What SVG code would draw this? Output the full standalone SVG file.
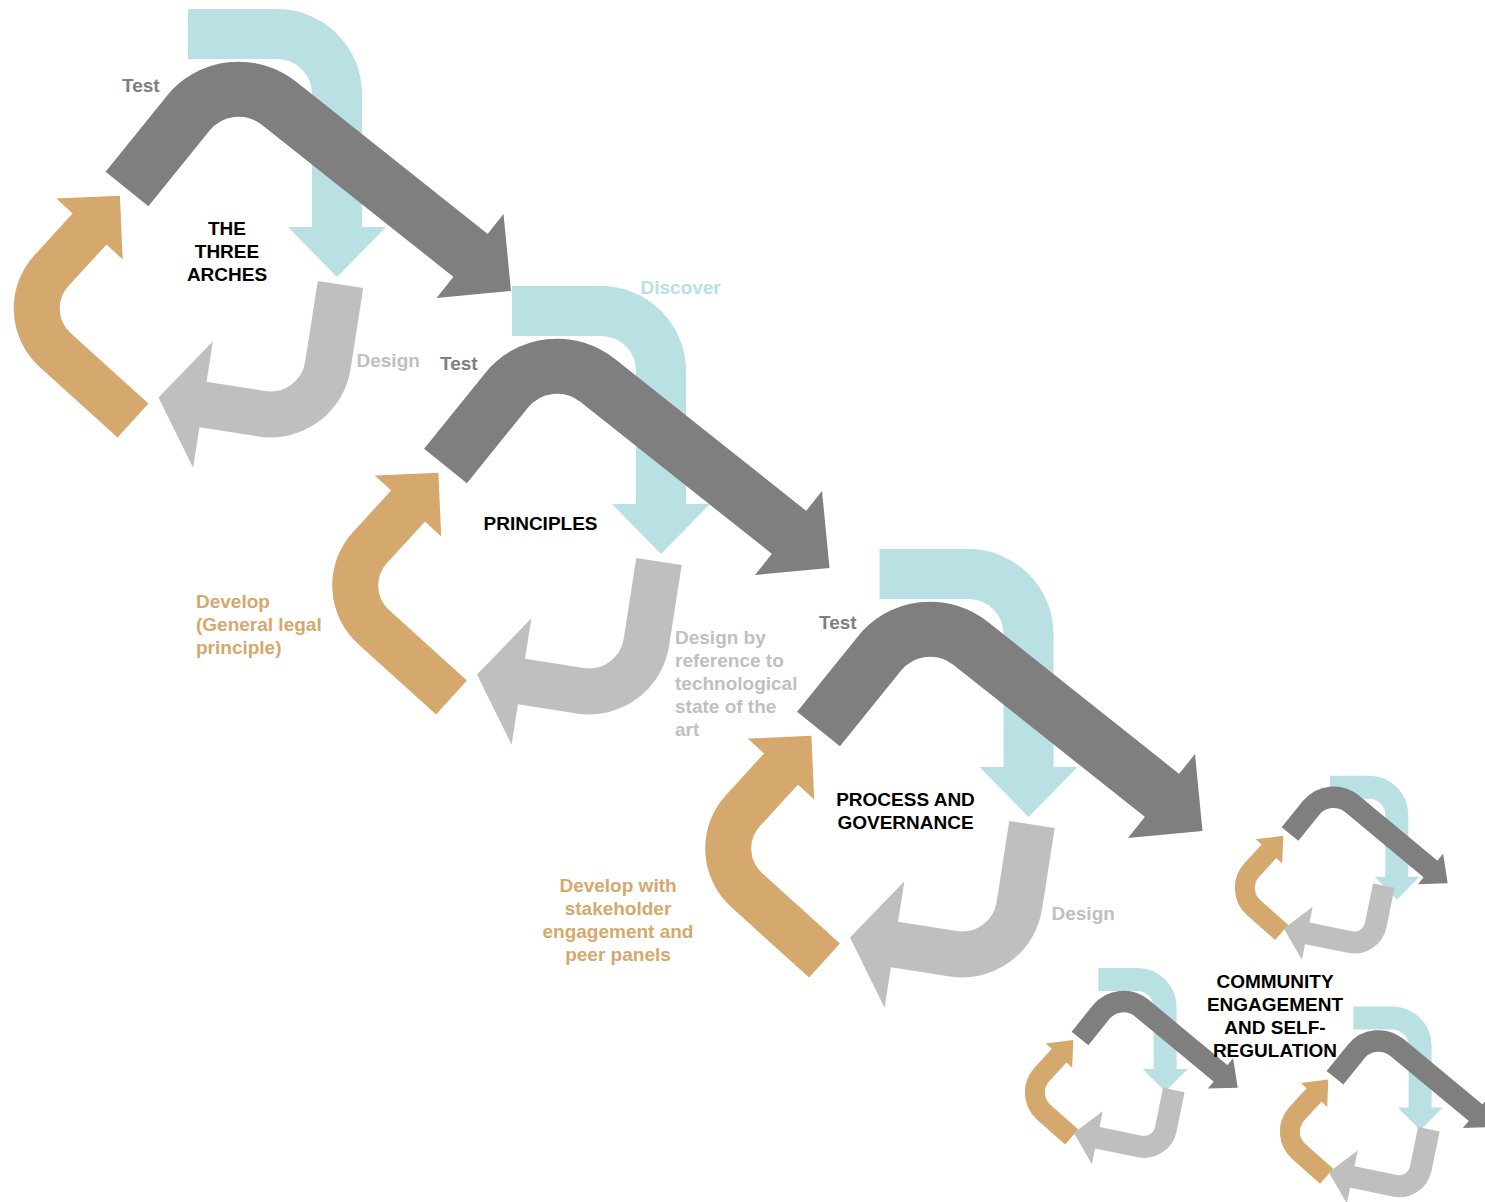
<svg xmlns="http://www.w3.org/2000/svg" width="1485" height="1202" viewBox="0 0 1485 1202">
<style>
.band{fill:none;stroke-linecap:butt;stroke-linejoin:miter}
.blue{stroke:#B9E0E3}.blue-f{fill:#B9E0E3}
.gray{stroke:#7F7F7F}.gray-f{fill:#7F7F7F}
.lgray{stroke:#BFBFBF}.lgray-f{fill:#BFBFBF}
.tan{stroke:#D5A86E}.tan-f{fill:#D5A86E}
.lbl{font-family:"Liberation Sans",Arial,Helvetica,sans-serif;font-weight:bold;font-size:19px}
.title{fill:#000;text-anchor:middle}
.c-test{fill:#7F7F7F}.c-design{fill:#BFBFBF}.c-disc{fill:#B9E0E3}.c-dev{fill:#D5A86E}
</style>
<defs>
<g id="big-blue">
<path class="band blue" stroke-width="50" d="M188,34 H277 A60,60 0 0 1 337,94 V229"/>
<polygon class="blue-f" points="288,227 386,227 337,277"/>
</g>
<g id="big-gray">
<path class="band gray" stroke-width="55" d="M127,189 L187.6,113.9 A65,65 0 0 1 279.3,103.5 L471.6,256.2"/>
<polygon class="gray-f" points="503.5,214 511,291 436.5,298"/>
</g>
<g id="big-lgray">
<path class="band lgray" stroke-width="46" d="M340.5,284.5 L327.9,365.3 A58,58 0 0 1 261.7,413.7 L201.5,404.3"/>
<polygon class="lgray-f" points="212.9,341.3 158.5,397.6 193.1,467.7"/>
</g>
<g id="big-tan">
<path class="band tan" stroke-width="46" d="M133,420.5 L54.8,349.7 A56,56 0 0 1 51.2,270.9 L90.5,227.9"/>
<polygon class="tan-f" points="56.3,198.6 119.9,195.8 122.7,259.4"/>
</g>
<g id="sm-blue">
<path class="band blue" stroke-width="23" d="M1330,787.2 H1369 A27.8,27.8 0 0 1 1396.8,815 V878"/>
<polygon class="blue-f" points="1374.5,876.7 1419.5,876.7 1397,899.5"/>
</g>
<g id="sm-gray">
<path class="band gray" stroke-width="21.5" d="M1290,834 L1311.2,807.7 A29,29 0 0 1 1351.8,803.7 L1431.3,869.6"/>
<polygon class="gray-f" points="1443.1,853.8 1447.7,883.3 1417.9,884.2"/>
</g>
<g id="sm-lgray">
<path class="band lgray" stroke-width="22" d="M1383.8,885.6 L1375.8,924.8 A22,22 0 0 1 1349.8,942 L1306.3,933.1"/>
<polygon class="lgray-f" points="1312.7,906.8 1283.8,928.5 1301.9,959.8"/>
</g>
<g id="sm-tan">
<path class="band tan" stroke-width="20" d="M1281.7,932.5 L1253.5,907.5 A26.5,26.5 0 0 1 1251.5,870.4 L1269.7,850.6"/>
<polygon class="tan-f" points="1282.2,863.4 1283.3,835.7 1255.8,839.2"/>
</g>
</defs>

<g id="node-three-arches">
<use href="#big-tan"/>
<use href="#big-blue"/>
<use href="#big-gray"/>
<use href="#big-lgray"/>
<text class="lbl title" x="227" y="234.8">THE</text>
<text class="lbl title" x="227" y="257.8">THREE</text>
<text class="lbl title" x="227" y="280.8">ARCHES</text>
<text class="lbl c-test" x="122" y="91.8">Test</text>
<text class="lbl c-design" x="356.5" y="366.8">Design</text>
</g>

<g id="node-principles">
<use href="#big-tan" transform="translate(318.5,277)"/>
<use href="#big-blue" transform="translate(324,277)"/>
<use href="#big-gray" transform="translate(318.5,277)"/>
<use href="#big-lgray" transform="translate(318.5,277)"/>
<text class="lbl title" x="540.5" y="529.8">PRINCIPLES</text>
<text class="lbl c-test" x="440" y="369.8">Test</text>
<text class="lbl c-disc" x="640.5" y="293.8">Discover</text>
<text class="lbl c-dev" x="196" y="607.8">Develop</text>
<text class="lbl c-dev" x="196" y="630.8">(General legal</text>
<text class="lbl c-dev" x="196" y="653.8">principle)</text>
<text class="lbl c-design" x="675" y="643.8">Design by</text>
<text class="lbl c-design" x="675" y="666.8">reference to</text>
<text class="lbl c-design" x="675" y="689.8">technological</text>
<text class="lbl c-design" x="675" y="712.8">state of the</text>
<text class="lbl c-design" x="675" y="735.8">art</text>
</g>

<g id="node-process-governance">
<use href="#big-tan" transform="translate(691.5,540)"/>
<use href="#big-blue" transform="translate(691.5,540)"/>
<use href="#big-gray" transform="translate(691.5,540)"/>
<use href="#big-lgray" transform="translate(691.5,540)"/>
<text class="lbl title" x="905.5" y="805.8">PROCESS AND</text>
<text class="lbl title" x="905.5" y="828.8">GOVERNANCE</text>
<text class="lbl c-test" x="819" y="628.8">Test</text>
<text class="lbl c-design" x="1051.5" y="919.8">Design</text>
<text class="lbl c-dev" x="618" y="891.8" text-anchor="middle">Develop with</text>
<text class="lbl c-dev" x="618" y="914.8" text-anchor="middle">stakeholder</text>
<text class="lbl c-dev" x="618" y="937.8" text-anchor="middle">engagement and</text>
<text class="lbl c-dev" x="618" y="960.8" text-anchor="middle">peer panels</text>
</g>

<g id="node-community">
<g id="small-cycle-a">
<use href="#sm-tan"/>
<use href="#sm-blue"/>
<use href="#sm-gray"/>
<use href="#sm-lgray"/>
</g>
<g id="small-cycle-b">
<use href="#sm-tan" transform="translate(-210,204.4)"/>
<use href="#sm-blue" transform="translate(-231.7,192.3)"/>
<use href="#sm-gray" transform="translate(-210,204.4)"/>
<use href="#sm-lgray" transform="translate(-210,204.4)"/>
</g>
<g id="small-cycle-c">
<use href="#sm-tan" transform="translate(45,243.7)"/>
<use href="#sm-blue" transform="translate(23.3,230.7)"/>
<use href="#sm-gray" transform="translate(45,243.7)"/>
<use href="#sm-lgray" transform="translate(45,243.7)"/>
</g>
<text class="lbl title" x="1275" y="988.3">COMMUNITY</text>
<text class="lbl title" x="1275" y="1011.3">ENGAGEMENT</text>
<text class="lbl title" x="1275" y="1034.3">AND SELF-</text>
<text class="lbl title" x="1275" y="1057.3">REGULATION</text>
</g>

<g id="connectors"></g>
</svg>
